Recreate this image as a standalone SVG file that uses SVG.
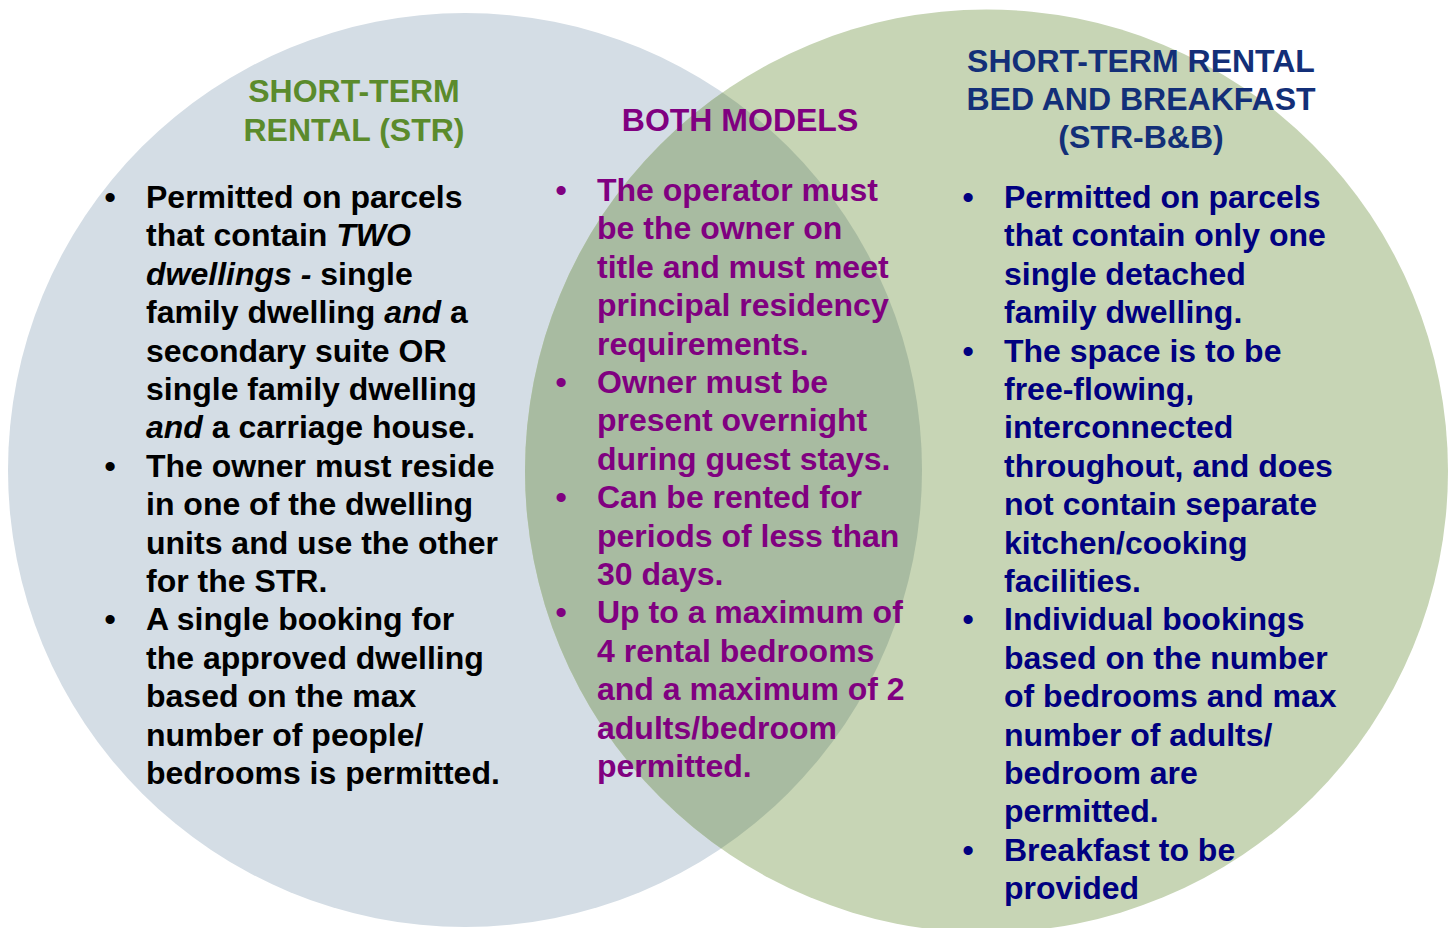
<svg xmlns="http://www.w3.org/2000/svg" width="1453" height="928" viewBox="0 0 1453 928">
<style>
text{font-family:"Liberation Sans",Arial,sans-serif;font-weight:bold;font-size:32px}
.h{text-anchor:middle}
.g{fill:#5b8b2c}
.p{fill:#800080}
.n{fill:#000080}
.nh{fill:#132f78}
.k{fill:#000}
.b{text-anchor:middle}
.i{font-style:italic}
</style>
<defs>
<clipPath id="clipL"><circle cx="465" cy="470" r="457"/></clipPath>
</defs>
<rect width="1453" height="928" fill="#fff"/>
<g id="circle-str">
<circle cx="465" cy="470" r="457" fill="#d4dde5"/>
</g>
<g id="circle-bb">
<circle cx="986.5" cy="471" r="461.5" fill="#c7d5b5"/>
</g>
<g id="overlap">
<circle cx="986.5" cy="471" r="461.5" fill="#a8bba1" clip-path="url(#clipL)"/>
</g>
<g id="str-text">
<text class="h g" x="354" y="102">SHORT-TERM</text>
<text class="h g" x="354" y="141">RENTAL (STR)</text>
<g transform="translate(0,1)">
<text class="b k" x="110" y="207">•</text>
<text class="b k" x="110" y="475.8">•</text>
<text class="b k" x="110" y="629.4">•</text>
<text class="k" x="146" y="207">Permitted on parcels</text>
<text class="k" x="146" y="245.4">that contain <tspan class="i">TWO</tspan></text>
<text class="k" x="146" y="283.8"><tspan class="i">dwellings -</tspan> single</text>
<text class="k" x="146" y="322.2">family dwelling <tspan class="i">and</tspan> a</text>
<text class="k" x="146" y="360.6">secondary suite OR</text>
<text class="k" x="146" y="399">single family dwelling</text>
<text class="k" x="146" y="437.4"><tspan class="i">and</tspan> a carriage house.</text>
<text class="k" x="146" y="475.8">The owner must reside</text>
<text class="k" x="146" y="514.2">in one of the dwelling</text>
<text class="k" x="146" y="552.6">units and use the other</text>
<text class="k" x="146" y="591">for the STR.</text>
<text class="k" x="146" y="629.4">A single booking for</text>
<text class="k" x="146" y="667.8">the approved dwelling</text>
<text class="k" x="146" y="706.2">based on the max</text>
<text class="k" x="146" y="744.6">number of people/</text>
<text class="k" x="146" y="783">bedrooms is permitted.</text>
</g>
</g>
<g id="both-text">
<text class="h p" x="740" y="131">BOTH MODELS</text>
<g transform="translate(0,1)">
<text class="b p" x="561" y="200">•</text>
<text class="b p" x="561" y="392">•</text>
<text class="b p" x="561" y="507.2">•</text>
<text class="b p" x="561" y="622.4">•</text>
<text class="p" x="597" y="200">The operator must</text>
<text class="p" x="597" y="238.4">be the owner on</text>
<text class="p" x="597" y="276.8">title and must meet</text>
<text class="p" x="597" y="315.2">principal residency</text>
<text class="p" x="597" y="353.6">requirements.</text>
<text class="p" x="597" y="392">Owner must be</text>
<text class="p" x="597" y="430.4">present overnight</text>
<text class="p" x="597" y="468.8">during guest stays.</text>
<text class="p" x="597" y="507.2">Can be rented for</text>
<text class="p" x="597" y="545.6">periods of less than</text>
<text class="p" x="597" y="584">30 days.</text>
<text class="p" x="597" y="622.4">Up to a maximum of</text>
<text class="p" x="597" y="660.8">4 rental bedrooms</text>
<text class="p" x="597" y="699.2">and a maximum of 2</text>
<text class="p" x="597" y="737.6">adults/bedroom</text>
<text class="p" x="597" y="776">permitted.</text>
</g>
</g>
<g id="bb-text">
<text class="h nh" x="1141" y="72">SHORT-TERM RENTAL</text>
<text class="h nh" x="1141" y="110">BED AND BREAKFAST</text>
<text class="h nh" x="1141" y="148">(STR-B&amp;B)</text>
<g transform="translate(0,1)">
<text class="b n" x="968" y="207">•</text>
<text class="b n" x="968" y="360.6">•</text>
<text class="b n" x="968" y="629.4">•</text>
<text class="b n" x="968" y="859.8">•</text>
<text class="n" x="1004" y="207">Permitted on parcels</text>
<text class="n" x="1004" y="245.4">that contain only one</text>
<text class="n" x="1004" y="283.8">single detached</text>
<text class="n" x="1004" y="322.2">family dwelling.</text>
<text class="n" x="1004" y="360.6">The space is to be</text>
<text class="n" x="1004" y="399">free-flowing,</text>
<text class="n" x="1004" y="437.4">interconnected</text>
<text class="n" x="1004" y="475.8">throughout, and does</text>
<text class="n" x="1004" y="514.2">not contain separate</text>
<text class="n" x="1004" y="552.6">kitchen/cooking</text>
<text class="n" x="1004" y="591">facilities.</text>
<text class="n" x="1004" y="629.4">Individual bookings</text>
<text class="n" x="1004" y="667.8">based on the number</text>
<text class="n" x="1004" y="706.2">of bedrooms and max</text>
<text class="n" x="1004" y="744.6">number of adults/</text>
<text class="n" x="1004" y="783">bedroom are</text>
<text class="n" x="1004" y="821.4">permitted.</text>
<text class="n" x="1004" y="859.8">Breakfast to be</text>
<text class="n" x="1004" y="898.2">provided</text>
</g>
</g>
</svg>
